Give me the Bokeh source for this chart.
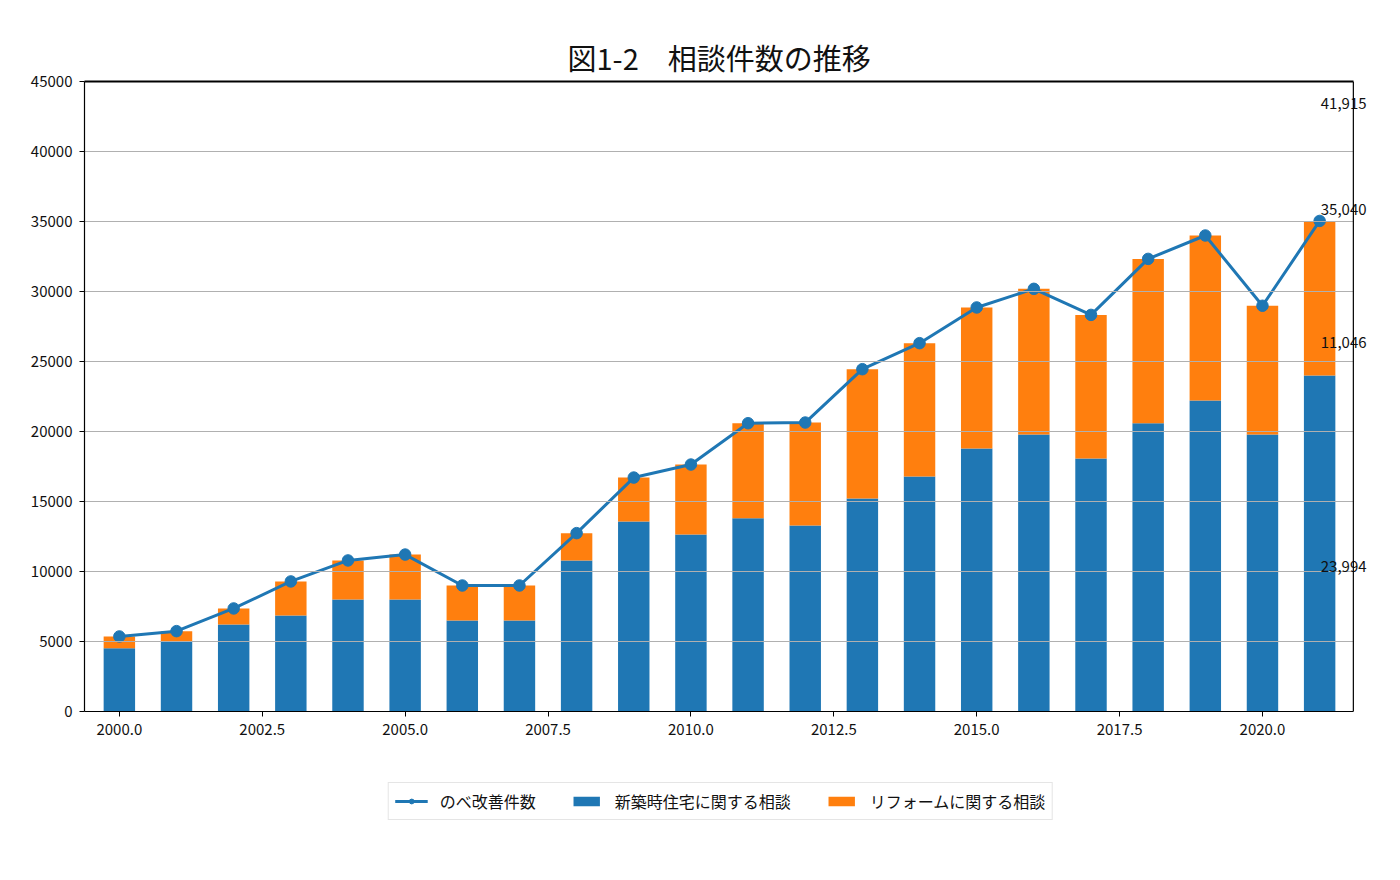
from bokeh.plotting import figure
from bokeh.layouts import column
from bokeh.models import (Range1d, FixedTicker, NumeralTickFormatter, Legend, LegendItem, Label,
                          SingleIntervalTicker, LinearAxis, Span)
from bokeh.embed import file_html
from bokeh.resources import INLINE

years = list(range(2000, 2022))
shinchiku = [4520, 4980, 6210, 6860, 8000, 8000, 6500, 6500, 10790, 13570, 12640,
             13810, 13290, 15210, 16790, 18790, 19790, 18070, 20590, 22210, 19790, 23994]
reform = [840, 760, 1150, 2430, 2790, 3210, 2500, 2500, 1950, 3140, 5000,
          6780, 7350, 9240, 9520, 10070, 10400, 10260, 11740, 11790, 9190, 11046]
nobe = [5360, 5740, 7360, 9290, 10790, 11210, 9000, 9000, 12740, 16710, 17640,
        20590, 20640, 24450, 26310, 28860, 30190, 28330, 32330, 34000, 28980, 35040]
x_ticks = [2000.0, 2002.5, 2005.0, 2007.5, 2010.0, 2012.5, 2015.0, 2017.5, 2020.0]
note_texts = ["41,915", "35,040", "11,046", "23,994"]
note_y = [43430, 35850, 26350, 10350]
note_x = 2021.42

title_text = "図1-2　相談件数の推移"
series_names = ["のべ改善件数", "新築時住宅に関する相談", "リフォームに関する相談"]
FONT = "Noto Sans CJK JP"
BLUE = "#1f77b4"
ORANGE = "#ff7f0e"

X0, X1 = 1999.39, 2021.59     # visible box (spines)
XEND = 2021.925               # extra room right of the box for the notes

p = figure(frame_width=1288, frame_height=630, output_backend="svg", toolbar_location=None,
           x_range=Range1d(X0, XEND), y_range=Range1d(0, 45000),
           min_border_left=84, min_border_right=20, min_border_top=81, min_border_bottom=40)

p.title.text = title_text
p.title.align = "left"
p.title.offset = 483
p.title.text_font = FONT
p.title.text_font_size = "29px"
p.title.text_font_style = "normal"
p.title.text_color = "#111111"
p.title.standoff = 7

tops = [a + b for a, b in zip(shinchiku, reform)]
r_blue = p.vbar(x=years, width=0.55, bottom=0, top=shinchiku, fill_color=BLUE, line_color=None)
r_orange = p.vbar(x=years, width=0.55, bottom=shinchiku, top=tops, fill_color=ORANGE, line_color=None)
r_blue.level = "underlay"
r_orange.level = "underlay"
p.ygrid.level = "glyph"

r_line = p.line(years, nobe, line_color=BLUE, line_width=3)
r_pts = p.scatter(years, nobe, size=11.5, fill_color=BLUE, line_color=BLUE)

for t, yy in zip(note_texts, note_y):
    p.add_layout(Label(x=note_x, y=yy, text=t, text_align="center", text_baseline="middle",
                       text_font=FONT, text_font_size="15px", text_color="#111111"))

p.xgrid.visible = False
p.ygrid.grid_line_color = "#b0b0b0"
p.ygrid.grid_line_width = 1
if hasattr(p.ygrid[0], "cross_bounds"):
    p.ygrid[0].cross_bounds = (X0, X1)
p.yaxis.ticker = SingleIntervalTicker(interval=5000)
p.yaxis.formatter = NumeralTickFormatter(format="0")
p.xaxis.ticker = FixedTicker(ticks=x_ticks)
p.xaxis.formatter = NumeralTickFormatter(format="0.0")
p.xaxis.bounds = (X0, X1)
for ax in (p.xaxis[0], p.yaxis[0]):
    ax.axis_line_color = "black"
    ax.axis_line_width = 1.2
    ax.major_tick_line_color = "black"
    ax.major_tick_out = 5
    ax.major_tick_in = 0
    ax.minor_tick_line_color = None
    ax.major_label_text_font = FONT
    ax.major_label_text_font_size = "15px"
    ax.major_label_text_color = "#111111"
p.xaxis.major_label_standoff = 7
p.yaxis.major_label_standoff = 7
p.outline_line_color = None

top_axis = LinearAxis(bounds=(X0, X1), ticker=FixedTicker(ticks=[]),
                      major_tick_line_color=None, minor_tick_line_color=None,
                      axis_line_color="black", axis_line_width=1.8)
p.add_layout(top_axis, "above")
p.add_layout(Span(location=X1, dimension="height", line_color="black", line_width=1.2))

# legend strip below the chart (its renderers reuse the data, kept out of view)
f2 = figure(frame_width=1272, frame_height=40, output_backend="svg", toolbar_location=None,
            x_range=Range1d(0, 1), y_range=Range1d(0, 1),
            x_axis_location=None, y_axis_location=None,
            min_border_left=84, min_border_right=0, min_border_top=30, min_border_bottom=20)
f2.outline_line_color = None
f2.grid.visible = False
l_line = f2.line(years, nobe, line_color=BLUE, line_width=3)
l_pts = f2.scatter(years, nobe, size=11, fill_color=BLUE, line_color=BLUE)
l_blue = f2.vbar(x=years, top=shinchiku, width=0.55, fill_color=BLUE, line_color=None)
l_orange = f2.vbar(x=years, top=tops, bottom=shinchiku, width=0.55, fill_color=ORANGE, line_color=None)

legend = Legend(items=[
    LegendItem(label=series_names[0], renderers=[l_line, l_pts]),
    LegendItem(label=series_names[1], renderers=[l_blue]),
    LegendItem(label=series_names[2], renderers=[l_orange]),
], orientation="horizontal", location="center")
legend.label_text_font = FONT
legend.label_text_font_size = "16px"
legend.label_text_color = "#111111"
legend.glyph_width = 33
legend.glyph_height = 12
legend.label_standoff = 12
legend.spacing = 34
legend.padding = 6
legend.margin = 0
legend.border_line_color = "#cccccc"
legend.border_line_width = 1
legend.background_fill_alpha = 1
f2.add_layout(legend, "center")

layout = column(p, f2, spacing=0)
open("out.html", "w").write(file_html(layout, INLINE))
